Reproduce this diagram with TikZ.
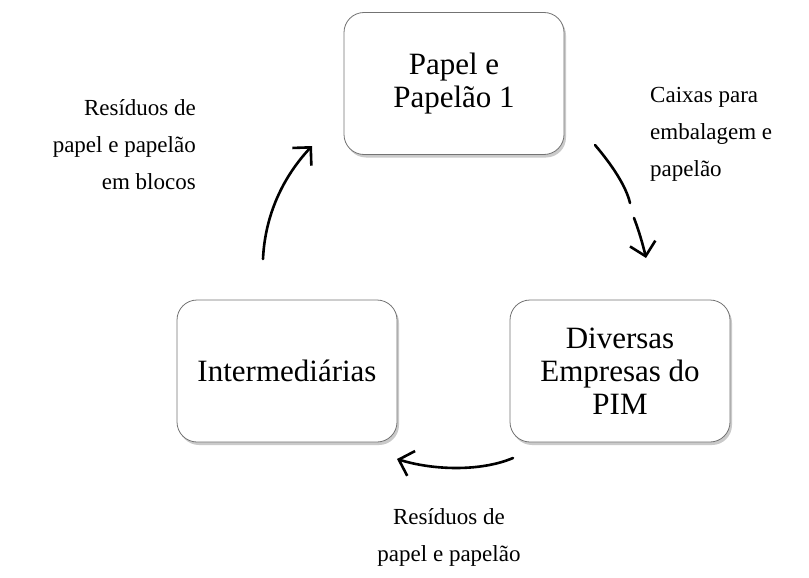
\documentclass[tikz,border=0pt]{standalone}
\usepackage{fontspec}
\setmainfont{Liberation Serif}
\usetikzlibrary{arrows.meta,shadows}
\begin{document}
\begin{tikzpicture}[x=1pt,y=-1pt,
  box/.style={draw=black!55, line width=0.8pt, rounded corners=20pt, fill=white,
    minimum width=220pt, minimum height=142pt, align=center,
    font=\fontsize{31}{33}\selectfont,
    drop shadow={shadow xshift=2pt, shadow yshift=-3pt, opacity=0.35, fill=black!60}},
  lbl/.style={font=\fontsize{23}{37}\selectfont, inner sep=0pt},
  flow/.style={line width=2.6pt, line cap=round},
  tip/.style={-{Straight Barb[length=13pt,width=26pt,line width=2.6pt]}}
]
\useasboundingbox (0,0) rectangle (809,578);
\node[box] (top) at (454,83.5) {Papel e\\Papelão 1};
\node[box] (right) at (620,371) {Diversas\\Empresas do\\PIM};
\node[box] (left) at (287,371) {Intermediárias};
\node[lbl, align=right, anchor=east] (l1) at (196,145) {Resíduos de\\papel e papelão\\em blocos};
\node[lbl, align=left, anchor=west] (l2) at (650,134) {Caixas para\\embalagem e\\papelão};
\node[lbl, align=center] (l3) at (449,537) {Resíduos de\\papel e papelão};
\coordinate (a1s) at (263,259);
\coordinate (a1e) at (312,146);
\coordinate (a2s) at (595,145);
\coordinate (a2m) at (630,203);
\coordinate (a2n) at (634,218);
\coordinate (a2e) at (646,258);
\coordinate (a3s) at (513,458);
\coordinate (a3e) at (397,459);
\draw[flow, tip] (a1s) .. controls (265,215) and (283,177) .. (a1e);
\draw[flow] (a2s) .. controls (612,165) and (626,186) .. (a2m);
\draw[flow, tip] (a2n) .. controls (639,231) and (643,245) .. (a2e);
\draw[flow, tip] (a3s) .. controls (480,472) and (432,470) .. (a3e);
\end{tikzpicture}
\end{document}
